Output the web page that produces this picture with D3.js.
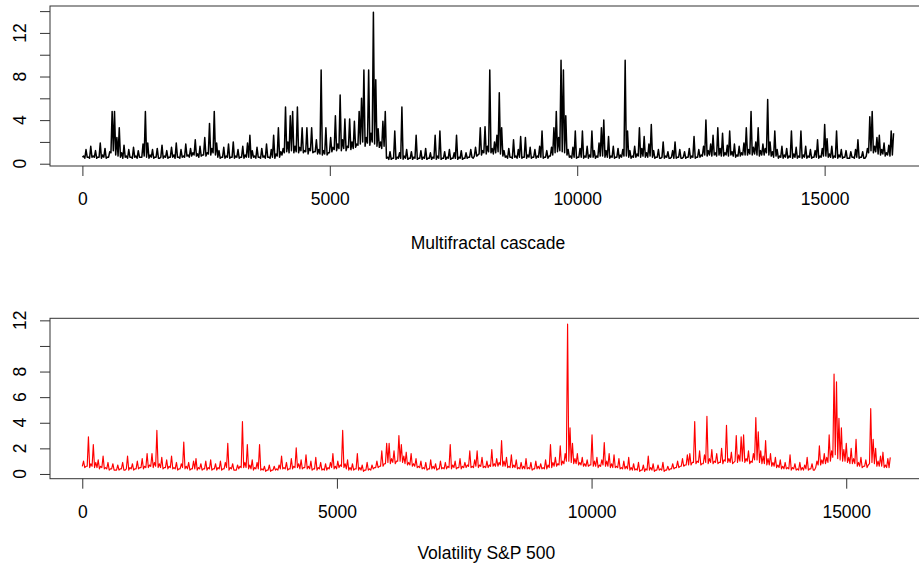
<!DOCTYPE html>
<html>
<head>
<meta charset="utf-8">
<script src="https://cdn.jsdelivr.net/npm/d3@7"></script>
<style>
  body { margin: 0; background: #fff; }
  text { font-family: "Liberation Sans", Arial, sans-serif; }
</style>
</head>
<body>
<script>
const cascade = [
  0.7,1.3,0.6,1.6,0.7,1.2,0.6,1.9,0.8,1.4,
  0.6,1.1,4.8,4.8,2.4,3.3,1.0,1.7,0.7,1.3,
  0.6,1.5,0.7,1.2,0.6,1.8,4.8,1.9,0.8,1.3,
  0.6,1.4,0.5,1.7,0.7,1.2,0.6,1.5,0.8,1.9,
  0.6,1.3,0.7,1.8,0.8,1.4,1.0,2.2,0.9,1.6,
  0.8,2.4,1.0,3.7,1.4,4.8,1.9,1.2,0.6,1.5,
  0.7,1.8,0.6,2.0,0.7,1.3,0.6,1.6,0.8,1.9,
  2.6,1.2,0.7,1.5,0.6,1.4,0.7,1.8,0.6,1.3,
  2.6,0.9,3.3,1.1,1.4,5.2,2.0,4.4,4.8,1.6,
  5.2,1.5,3.3,1.2,3.3,1.4,3.3,1.1,2.2,1.3,
  8.6,1.2,3.3,1.0,2.4,1.5,4.4,1.8,6.3,2.2,
  4.1,1.6,4.1,2.0,3.9,1.8,4.8,6.0,8.6,2.4,
  8.6,2.8,13.9,7.7,3.2,2.0,3.9,4.8,0.6,1.1,
  0.5,3.0,0.6,1.0,5.2,0.7,1.3,0.5,1.1,0.6,
  2.6,0.5,1.2,0.6,1.4,0.5,1.0,0.6,2.6,0.7,
  3.0,0.5,1.1,0.6,1.3,0.5,1.0,2.6,0.6,1.2,
  0.5,1.0,0.6,1.3,0.5,1.5,0.8,3.3,1.2,3.4,
  1.6,8.6,1.4,2.0,2.6,6.5,3.3,1.2,0.7,1.4,
  0.6,2.2,0.7,1.3,2.5,0.6,2.4,0.8,1.5,0.6,
  1.3,0.7,1.6,3.0,0.6,1.2,0.7,1.5,3.3,4.8,
  2.4,9.5,8.6,4.4,1.3,0.7,1.5,3.0,0.6,1.4,
  3.0,0.7,1.6,0.8,3.0,1.2,0.7,1.9,3.3,4.0,
  1.2,2.5,0.7,1.6,0.6,1.4,0.8,1.3,9.5,3.0,
  1.2,0.7,1.6,0.9,3.3,1.4,2.5,1.0,1.8,3.6,
  1.2,0.6,1.3,0.5,2.0,0.7,1.1,0.5,1.2,2.0,
  0.6,1.3,0.5,1.1,0.6,1.4,0.7,2.5,0.6,1.3,
  0.8,1.6,4.0,1.2,1.8,2.6,1.0,3.3,1.4,2.8,
  1.0,1.7,3.0,1.1,1.8,0.8,1.6,1.0,1.9,3.3,
  1.3,4.8,1.5,2.0,3.3,1.2,1.8,1.4,5.9,2.0,
  1.1,3.0,1.3,0.7,1.6,0.8,1.4,0.7,3.0,0.9,
  1.5,0.7,3.0,0.8,1.6,0.7,1.3,0.6,1.2,2.2,
  0.7,1.4,3.6,2.3,0.9,1.6,0.7,3.0,0.8,1.3,
  0.6,1.2,0.5,1.1,0.6,1.3,2.2,0.6,1.1,0.5,
  1.4,4.3,4.8,1.6,2.4,2.6,1.3,1.9,1.0,1.7,
  3.0,2.8
];

const cascadeTrough = [
  0.6,0.5,0.6,0.5,0.6,0.6,0.5,0.6,0.5,0.6,
  0.5,0.6,1.0,1.2,0.8,0.7,0.6,0.5,0.6,0.5,
  0.6,0.5,0.6,0.5,0.6,0.6,0.7,0.6,0.5,0.6,
  0.5,0.6,0.5,0.6,0.5,0.6,0.5,0.6,0.6,0.5,
  0.6,0.5,0.6,0.6,0.7,0.6,0.7,0.8,0.7,0.6,
  0.7,0.8,0.7,0.9,0.8,1.0,0.8,0.6,0.5,0.6,
  0.5,0.6,0.5,0.6,0.5,0.6,0.5,0.6,0.5,0.6,
  0.6,0.5,0.6,0.5,0.6,0.5,0.6,0.5,0.6,0.5,
  0.6,0.5,0.7,0.6,0.8,1.0,1.1,1.0,1.2,1.0,
  1.1,1.0,1.2,1.0,1.1,0.9,1.2,1.0,1.1,0.9,
  0.9,0.8,0.9,0.8,1.0,1.1,1.3,1.2,1.4,1.2,
  1.4,1.2,1.5,1.3,1.4,1.5,1.7,1.8,2.0,1.6,
  1.9,1.7,2.0,1.8,1.6,1.5,1.4,1.6,0.5,0.4,
  0.4,0.5,0.4,0.5,0.5,0.4,0.5,0.4,0.5,0.4,
  0.5,0.4,0.5,0.4,0.5,0.4,0.5,0.4,0.5,0.4,
  0.5,0.4,0.5,0.4,0.5,0.4,0.5,0.5,0.4,0.5,
  0.4,0.5,0.5,0.6,0.6,0.7,0.7,0.9,0.8,1.0,
  0.9,1.1,1.0,0.9,1.0,1.1,0.9,0.7,0.6,0.5,
  0.6,0.5,0.6,0.5,0.6,0.5,0.6,0.5,0.6,0.5,
  0.6,0.5,0.6,0.6,0.5,0.6,0.5,0.7,0.8,1.0,
  1.1,1.2,1.1,1.0,0.8,0.6,0.5,0.6,0.5,0.6,
  0.6,0.5,0.6,0.5,0.6,0.6,0.5,0.6,0.7,0.7,
  0.6,0.6,0.5,0.6,0.5,0.6,0.5,0.6,0.7,0.7,
  0.6,0.5,0.6,0.6,0.7,0.6,0.7,0.6,0.6,0.7,
  0.6,0.5,0.6,0.5,0.6,0.5,0.6,0.5,0.6,0.5,
  0.5,0.6,0.5,0.6,0.5,0.6,0.5,0.6,0.5,0.6,
  0.6,0.7,0.8,0.7,0.8,0.7,0.8,0.7,0.8,0.7,
  0.7,0.8,0.7,0.8,0.7,0.6,0.7,0.7,0.8,0.8,
  0.8,0.9,0.8,0.9,0.8,0.7,0.8,0.8,1.0,0.8,
  0.7,0.6,0.7,0.5,0.6,0.5,0.6,0.5,0.6,0.5,
  0.6,0.5,0.6,0.5,0.6,0.5,0.6,0.5,0.6,0.6,
  0.5,0.6,0.7,0.7,0.6,0.6,0.5,0.6,0.5,0.6,
  0.5,0.6,0.5,0.5,0.6,0.5,0.6,0.5,0.6,0.5,
  0.7,1.0,1.2,1.0,1.1,0.9,0.8,0.9,0.7,0.8,
  0.7,0.8
];

const volatility = [
  1.0,0.6,2.9,0.8,2.3,0.9,1.1,0.6,1.4,0.5,
  0.9,0.4,0.8,0.3,0.7,0.4,0.9,0.3,1.4,0.5,
  0.8,0.4,1.0,0.5,1.2,0.6,1.6,0.7,1.6,0.9,
  3.4,0.8,1.3,0.5,1.1,0.6,1.4,0.5,0.9,0.4,
  0.8,2.5,0.6,0.9,0.4,1.0,1.2,0.5,0.8,0.4,
  1.0,0.5,1.1,0.4,0.8,0.5,1.0,0.4,0.9,2.4,
  0.5,0.8,0.3,0.7,0.6,4.1,0.9,2.3,0.7,1.1,
  0.5,0.9,2.3,0.4,0.6,0.3,0.7,0.3,0.6,0.4,
  0.7,1.4,0.5,0.9,0.4,1.2,0.6,2.05,0.8,1.1,
  0.5,1.5,0.6,1.0,0.4,1.3,0.5,0.9,0.4,0.8,
  0.5,0.9,1.6,0.6,1.0,0.7,3.4,0.8,1.1,0.5,
  0.8,0.4,1.6,0.5,0.7,0.3,0.9,0.4,0.7,0.5,
  1.0,0.6,1.8,0.8,2.4,2.4,1.2,1.8,1.0,3.0,
  2.3,1.4,1.7,0.9,1.6,0.8,1.2,0.6,1.0,0.5,
  0.9,0.4,1.1,0.6,0.8,0.4,1.0,0.5,0.9,0.6,
  2.3,0.7,1.0,0.5,1.2,0.6,0.9,0.7,1.8,0.6,
  1.1,1.8,0.7,1.3,0.6,1.0,0.7,1.9,0.8,1.2,
  0.9,2.6,1.0,1.3,0.6,1.5,0.7,1.1,0.5,0.9,
  0.6,1.2,0.5,0.9,0.4,1.0,0.6,0.8,0.5,1.1,
  0.7,2.3,0.9,1.3,0.8,2.2,1.0,1.6,11.7,3.6,
  2.4,1.2,1.6,0.9,1.3,0.8,1.1,0.7,3.05,1.0,
  1.3,0.7,1.1,2.45,1.0,1.6,0.8,1.5,0.6,1.2,
  0.5,1.0,0.6,1.3,0.5,0.8,0.4,0.9,0.3,0.7,
  0.4,1.4,0.5,0.8,0.3,0.7,0.4,0.9,0.3,0.6,
  0.4,0.8,0.5,1.0,0.6,1.2,0.7,1.5,1.6,0.9,
  4.1,1.0,1.8,0.8,1.5,4.5,1.2,1.9,1.0,1.6,
  0.9,2.0,1.1,3.8,1.2,1.7,0.9,3.0,1.5,2.9,
  3.05,1.2,1.8,1.0,1.6,4.4,3.3,1.8,1.4,2.6,
  1.2,1.6,0.9,1.3,0.7,1.1,0.6,0.9,0.5,1.5,
  0.5,0.8,0.4,0.9,0.5,0.7,1.3,0.4,0.8,0.3,
  1.0,2.2,1.1,1.6,1.3,3.05,1.8,7.8,7.2,4.35,
  3.6,1.9,2.4,1.3,2.0,1.2,2.7,0.9,1.3,0.6,
  1.1,0.7,5.1,2.7,2.0,1.0,1.4,1.7,0.7,1.2,
  1.3
];

const volatilityTrough = [
  0.6,0.5,0.6,0.5,0.6,0.5,0.5,0.4,0.5,0.4,
  0.4,0.3,0.4,0.3,0.3,0.3,0.4,0.3,0.4,0.3,
  0.4,0.3,0.4,0.4,0.5,0.4,0.5,0.5,0.6,0.5,
  0.6,0.5,0.5,0.4,0.5,0.4,0.5,0.4,0.4,0.3,
  0.4,0.5,0.4,0.4,0.3,0.4,0.4,0.3,0.4,0.3,
  0.4,0.3,0.4,0.3,0.4,0.3,0.4,0.3,0.4,0.5,
  0.3,0.4,0.3,0.3,0.4,0.5,0.5,0.5,0.4,0.4,
  0.3,0.4,0.4,0.3,0.3,0.2,0.3,0.2,0.3,0.3,
  0.3,0.4,0.4,0.4,0.3,0.4,0.4,0.5,0.5,0.4,
  0.4,0.5,0.4,0.4,0.3,0.4,0.3,0.4,0.3,0.3,
  0.3,0.4,0.5,0.4,0.4,0.5,0.6,0.5,0.4,0.3,
  0.3,0.3,0.4,0.3,0.3,0.2,0.3,0.3,0.3,0.4,
  0.5,0.5,0.6,0.6,0.8,0.9,0.8,0.9,0.8,1.0,
  1.0,0.9,0.8,0.7,0.7,0.6,0.6,0.5,0.5,0.4,
  0.4,0.3,0.4,0.4,0.4,0.3,0.4,0.4,0.4,0.4,
  0.5,0.4,0.5,0.4,0.5,0.4,0.5,0.5,0.6,0.5,
  0.5,0.6,0.5,0.6,0.5,0.5,0.5,0.6,0.6,0.6,
  0.6,0.7,0.6,0.6,0.5,0.5,0.5,0.5,0.4,0.4,
  0.4,0.4,0.4,0.4,0.3,0.4,0.4,0.4,0.4,0.4,
  0.4,0.5,0.5,0.6,0.6,0.7,0.7,0.8,1.0,1.0,
  0.9,0.8,0.8,0.7,0.7,0.6,0.6,0.6,0.7,0.6,
  0.6,0.5,0.6,0.7,0.6,0.6,0.5,0.5,0.5,0.5,
  0.4,0.4,0.4,0.4,0.3,0.3,0.3,0.3,0.2,0.3,
  0.2,0.3,0.3,0.3,0.2,0.3,0.3,0.3,0.2,0.3,
  0.3,0.4,0.4,0.5,0.5,0.6,0.6,0.7,0.7,0.7,
  0.9,0.8,0.9,0.7,0.8,0.9,0.8,0.9,0.8,0.9,
  0.8,0.9,0.8,1.0,0.9,0.9,0.8,1.0,0.9,1.0,
  1.0,0.9,1.0,0.8,0.9,1.1,1.1,0.9,0.8,0.8,
  0.7,0.7,0.6,0.6,0.5,0.5,0.4,0.4,0.4,0.4,
  0.3,0.4,0.3,0.3,0.3,0.3,0.4,0.3,0.4,0.3,
  0.5,0.7,0.7,0.8,0.8,0.9,1.0,1.3,1.5,1.2,
  1.1,1.0,1.0,0.9,0.8,0.8,0.8,0.6,0.6,0.5,
  0.6,0.5,0.8,0.9,0.8,0.6,0.6,0.6,0.5,0.5,
  0.5
];

const step = 24;
const xTicks = [0, 5000, 10000, 15000];
const cascadeYTicks = [0, 2, 4, 6, 8, 10, 12, 14];
const cascadeYLabels = [0, 4, 8, 12];
const volYTicks = [0, 2, 4, 6, 8, 10, 12];
const volYLabels = [0, 2, 4, 6, 8, 12];
const titles = ["Multifractal cascade", "Volatility S&P 500"];

const W = 919, H = 567;
const fontSize = 17.5;
const axisColor = "#333";

const svg = d3.select("body").append("svg")
    .attr("width", W)
    .attr("height", H);

// trough then reading for every block of 48 observations
const merge = (trough, reading) => trough.flatMap((t, i) => [t, reading[i]]);

const panels = [
    { values: merge(cascadeTrough, cascade), color: "#000", width: 1.5, top: 6, bottom: 166, left: 50, right: 926,
      yDomain: [-0.21, 14.47], yTicks: cascadeYTicks, yLabels: cascadeYLabels, title: titles[0], titleY: 249 },
    { values: merge(volatilityTrough, volatility), color: "#ff0000", width: 1.15, top: 318.3, bottom: 478.7, left: 50, right: 922.6,
      yDomain: [-0.37, 12.16], yTicks: volYTicks, yLabels: volYLabels, title: titles[1], titleY: 559 }
];

panels.forEach((p) => {
    const n = (p.values.length - 1) * step + 1;
    const pad = (n - 1) * 0.04;
    const x = d3.scaleLinear().domain([1 - pad, n + pad]).range([p.left, p.right]);
    const y = d3.scaleLinear().domain(p.yDomain).range([p.bottom, p.top]);

    const g = svg.append("g");

    // series
    const line = d3.line()
        .x((d, i) => x(i * step + 1))
        .y((d) => y(d));

    g.append("path")
        .datum(p.values)
        .attr("d", line)
        .attr("fill", "none")
        .attr("stroke", p.color)
        .attr("stroke-width", p.width)
        .attr("stroke-linejoin", "round");

    // box
    g.append("rect")
        .attr("x", p.left)
        .attr("y", p.top)
        .attr("width", p.right - p.left)
        .attr("height", p.bottom - p.top)
        .attr("fill", "none")
        .attr("stroke", axisColor);

    // x axis
    const xAxis = g.append("g")
        .attr("transform", "translate(0," + p.bottom + ")")
        .attr("color", axisColor)
        .call(d3.axisBottom(x).tickValues(xTicks).tickSize(10).tickPadding(17).tickFormat(d3.format("d")));
    xAxis.select(".domain").remove();
    xAxis.selectAll("text")
        .attr("fill", "#000")
        .style("font-size", fontSize + "px")
        .style("font-family", '"Liberation Sans", Arial, sans-serif');

    // y axis, labels drawn vertically as in R
    const yAxis = g.append("g")
        .attr("transform", "translate(" + p.left + ",0)")
        .attr("color", axisColor)
        .call(d3.axisLeft(y).tickValues(p.yTicks).tickSize(10).tickFormat(""));
    yAxis.select(".domain").remove();

    g.selectAll(".ylab")
        .data(p.yLabels)
        .enter()
        .append("text")
        .attr("class", "ylab")
        .attr("transform", (d) => "translate(26," + y(d) + ") rotate(-90)")
        .attr("text-anchor", "middle")
        .style("font-size", fontSize + "px")
        .text((d) => d);

    // title under the axis
    g.append("text")
        .attr("x", (p.left + p.right) / 2)
        .attr("y", p.titleY)
        .attr("text-anchor", "middle")
        .style("font-size", fontSize + "px")
        .text(p.title);
});
</script>
</body>
</html>
